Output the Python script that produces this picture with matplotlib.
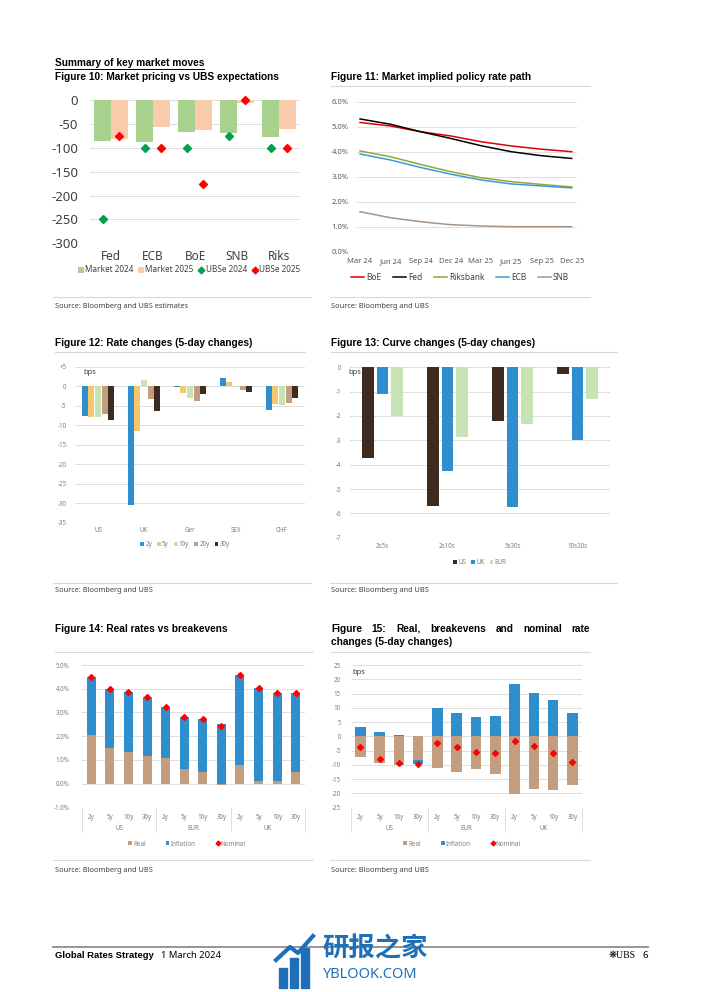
import matplotlib
matplotlib.use('Agg')
import matplotlib.pyplot as plt
import numpy as np
from matplotlib.lines import Line2D
from matplotlib.patches import Patch, Rectangle
import matplotlib.transforms as mtransforms

plt.rcParams['font.family'] = ['Noto Sans', 'DejaVu Sans']
plt.rcParams['axes.unicode_minus'] = False

# ---------------- DATA ----------------
# Figure 10
banks10 = ['Fed', 'ECB', 'BoE', 'SNB', 'Riks']
market2024 = [-85, -88, -68, -70, -78]
market2025 = [-82, -57, -62, -6, -60]
ubse2024 = [-250, -100, -100, -75, -100]
ubse2025 = [-75, -100, -175, 0, -100]

# Figure 11 (quarterly)
months11 = ['Mar 24', 'Jun 24', 'Sep 24', 'Dec 24', 'Mar 25', 'Jun 25', 'Sep 25', 'Dec 25']
boe11 = [5.17, 5.03, 4.80, 4.63, 4.40, 4.23, 4.10, 4.00]
fed11 = [5.31, 5.10, 4.80, 4.53, 4.24, 4.00, 3.84, 3.73]
riks11 = [4.03, 3.80, 3.49, 3.20, 2.96, 2.80, 2.69, 2.59]
ecb11 = [3.91, 3.67, 3.37, 3.10, 2.87, 2.71, 2.63, 2.55]
snb11 = [1.60, 1.36, 1.20, 1.08, 1.03, 1.00, 1.00, 1.00]

# Figure 12
markets12 = ['US', 'UK', 'Ger', 'SEX', 'CHF']
tenors12 = ['2y', '5y', '10y', '20y', '30y']
chg2y = [-7.7, -30.5, -0.3, 2.0, -6.0]
chg5y = [-7.9, -11.5, -1.7, 1.2, -4.6]
chg10y = [-7.9, 1.7, -3.0, -0.1, -4.9]
chg20y = [-7.2, -3.4, -3.8, -0.9, -4.4]
chg30y = [-8.6, -6.4, -1.9, -1.6, -2.9]

# Figure 13
curves13 = ['2s5s', '2s10s', '5s30s', '10s30s']
us13 = [-3.71, -5.68, -2.19, -0.29]
uk13 = [-1.10, -4.25, -5.73, -2.99]
eur13 = [-2.00, -2.85, -2.34, -1.30]

# Figures 14 / 15
groups = ['US', 'EUR', 'UK']
tenors = ['2y', '5y', '10y', '30y']
real14 = [2.06, 1.50, 1.33, 1.16, 1.09, 0.63, 0.47, -0.07, 0.79, 0.11, 0.11, 0.50]
infl14 = [2.45, 2.48, 2.52, 2.47, 2.13, 2.17, 2.26, 2.50, 3.79, 3.91, 3.73, 3.31]
nom14 = [4.51, 3.98, 3.85, 3.63, 3.22, 2.80, 2.73, 2.43, 4.58, 4.02, 3.84, 3.81]

real15 = [-7.1, -9.5, -10.0, -8.3, -11.2, -12.4, -11.6, -13.2, -20.2, -18.5, -18.8, -17.2]
infl15 = [3.4, 1.4, 0.5, -1.4, 9.8, 8.3, 6.9, 7.1, 18.3, 15.3, 12.7, 8.3]
nom15 = [-3.7, -7.9, -9.3, -9.6, -2.2, -3.9, -5.4, -6.0, -1.8, -3.3, -6.0, -8.9]

# ---------------- STYLE ----------------
GRID = '#d9d9d9'
TXT = '#7f7f7f'
BLUE = '#2f8fce'
YEL = '#f2c86a'
LGRN = '#c7e3b6'
TAN = '#c49c7e'
DBRN = '#3d2b1f'
WMK = '#1f6fb8'
BOLD = ['Liberation Sans', 'DejaVu Sans']

W, H = 702, 992
fig = plt.figure(figsize=(W / 100, H / 100), dpi=100)


def add_ax(x0, y0, x1, y1):
    return fig.add_axes([x0 / W, 1 - y1 / H, (x1 - x0) / W, (y1 - y0) / H])


def ftext(x, y, s, **kw):
    kw.setdefault('va', 'center')
    return fig.text(x / W, 1 - y / H, s, **kw)


def hline(x0, x1, y, color=GRID, lw=0.8):
    fig.add_artist(Line2D([x0 / W, x1 / W], [1 - y / H, 1 - y / H], color=color, lw=lw))


def fx(x):
    return x / W


def fy(y):
    return 1 - y / H


def base_style(ax):
    for s in ax.spines.values():
        s.set_visible(False)
    ax.tick_params(length=0)
    ax.yaxis.grid(True, color=GRID, lw=0.6)
    ax.set_axisbelow(True)


renderer = fig.canvas.get_renderer()

# fit title font size so that Figure 10 title spans ~224 px like the reference
probe = ftext(55, 77, 'Figure 10: Market pricing vs UBS expectations', fontweight='bold',
              fontsize=7, family=BOLD)
wprobe = probe.get_window_extent(renderer).width
TITLE_FS = 7 * 224.0 / wprobe
probe.remove()


def title(x, y, s):
    return ftext(x, y, s, fontweight='bold', fontsize=TITLE_FS, family=BOLD)


# ---------------- Figure 10 ----------------
t = title(55, 62.5, 'Summary of key market moves')
title(55, 76.5, 'Figure 10: Market pricing vs UBS expectations')
bb = t.get_window_extent(renderer)
hline(bb.x0, bb.x1, 68.8, color='black', lw=0.7)

ax10 = add_ax(90, 100, 300, 243.3)
base_style(ax10)
x10 = np.arange(len(banks10))
b1 = ax10.bar(x10 - 0.2, market2024, width=0.4, color='#a9d18e', label='Market 2024')
b2 = ax10.bar(x10 + 0.2, market2025, width=0.4, color='#f8cbad', label='Market 2025')
m1, = ax10.plot(x10 - 0.2, ubse2024, 'D', color='#00a04f', ms=3.8, ls='none', clip_on=False, label='UBSe 2024')
m2, = ax10.plot(x10 + 0.2, ubse2025, 'D', color='#ff0000', ms=3.8, ls='none', clip_on=False, label='UBSe 2025')
ax10.set_xlim(-0.5, 4.5)
ax10.set_ylim(-300, 0)
ax10.set_yticks(np.arange(-300, 1, 50))
ax10.set_yticklabels([str(v) for v in np.arange(-300, 1, 50)])
ax10.set_xticks(x10)
ax10.set_xticklabels(banks10)
ax10.tick_params(axis='y', labelsize=9.5, colors='#404040', pad=8.5)
ax10.tick_params(axis='x', labelsize=8.5, colors='#404040', pad=5)
ax10.legend(handles=[b1, b2, m1, m2], loc='center', bbox_to_anchor=(fx(189), fy(270)),
            bbox_transform=fig.transFigure,
            ncol=4, frameon=False, fontsize=5.9, handlelength=0.7, handleheight=0.7,
            handletextpad=0.15, columnspacing=0.6, labelcolor='#404040', markerscale=0.9)

# ---------------- Figure 11 ----------------
title(331, 76.5, 'Figure 11: Market implied policy rate path')
hline(331, 590, 86)
ax11 = add_ax(357, 101.7, 577, 251.7)
base_style(ax11)
x11 = np.arange(len(months11))
ax11.plot(x11, boe11, color='#e00000', lw=1.1, label='BoE')
ax11.plot(x11, fed11, color='black', lw=1.1, label='Fed')
ax11.plot(x11, riks11, color='#93a733', lw=1.1, label='Riksbank')
ax11.plot(x11, ecb11, color='#3d9ad6', lw=1.1, label='ECB')
ax11.plot(x11, snb11, color='#a89484', lw=1.1, label='SNB')
ax11.set_xlim(-0.1, 7.175)
ax11.set_ylim(0, 6)
ax11.set_yticks(np.arange(0, 7, 1))
ax11.set_yticklabels(['%.1f%%' % v for v in np.arange(0, 7, 1)])
ax11.set_xticks(x11)
ax11.set_xticklabels(months11)
ax11.tick_params(axis='both', labelsize=5.5, colors='#595959')
ax11.tick_params(axis='y', pad=6)
ax11.tick_params(axis='x', pad=8)
for lab in ax11.get_xticklabels():
    lab.set_va('baseline')
ax11.legend(loc='center', bbox_to_anchor=(fx(460), fy(277)), bbox_transform=fig.transFigure,
            ncol=5, frameon=False, fontsize=6, handlelength=1.6, handletextpad=0.2,
            columnspacing=1.4, labelcolor='#404040')

# source lines row 1
hline(53, 311, 297)
hline(330, 590, 297)
ftext(55, 306, 'Source: Bloomberg and UBS estimates', fontsize=5.3, color='#404040')
ftext(331, 306, 'Source: Bloomberg and UBS', fontsize=5.3, color='#404040')

# ---------------- Figure 12 ----------------
title(55, 342.5, 'Figure 12: Rate changes (5-day changes)')
hline(55, 305, 352)
ax12 = add_ax(75, 366.7, 305, 522.7)
base_style(ax12)
x12 = np.arange(len(markets12))
series12 = [chg2y, chg5y, chg10y, chg20y, chg30y]
cols12 = [BLUE, YEL, LGRN, TAN, DBRN]
slot = 0.145
for i, (vals, c, lab) in enumerate(zip(series12, cols12, tenors12)):
    ax12.bar(x12 + (i - 2) * slot, vals, width=0.125, color=c, label=lab)
ax12.set_xlim(-0.5, 4.5)
ax12.set_ylim(-35, 5)
ax12.set_yticks(np.arange(-35, 6, 5))
ax12.set_yticklabels([('+%d' % v) if v > 0 else str(v) for v in np.arange(-35, 6, 5)])
ax12.set_xticks(x12)
ax12.set_xticklabels(markets12)
ax12.tick_params(axis='both', labelsize=4.5, colors=TXT)
ax12.tick_params(axis='y', pad=6)
ax12.tick_params(axis='x', pad=3)
ax12.text(fx(83), fy(373), 'bps', transform=fig.transFigure, fontsize=5.5, color='#404040', va='center')
ax12.legend(loc='center', bbox_to_anchor=(fx(185), fy(545)), bbox_transform=fig.transFigure,
            ncol=5, frameon=False, fontsize=4.5, handlelength=0.6, handleheight=0.6,
            handletextpad=0.2, columnspacing=0.8, labelcolor=TXT)

# ---------------- Figure 13 ----------------
title(331, 342.5, 'Figure 13: Curve changes (5-day changes)')
hline(331, 617, 352)
ax13 = add_ax(350, 367.3, 610, 537.7)
base_style(ax13)
x13 = np.arange(len(curves13))
slot13 = 0.22
ax13.text(fx(348), fy(373), 'bps', transform=fig.transFigure, fontsize=5.5, color='#404040',
          va='center', zorder=0.5)
ax13.bar(x13 - slot13, us13, width=0.18, color=DBRN, label='US', zorder=2)
ax13.bar(x13, uk13, width=0.18, color=BLUE, label='UK', zorder=2)
ax13.bar(x13 + slot13, eur13, width=0.18, color=LGRN, label='EUR', zorder=2)
ax13.set_xlim(-0.5, 3.5)
ax13.set_ylim(-7, 0)
ax13.set_yticks(np.arange(-7, 1, 1))
ax13.set_yticklabels([str(v) for v in np.arange(-7, 1, 1)])
ax13.set_xticks(x13)
ax13.set_xticklabels(curves13)
ax13.tick_params(axis='both', labelsize=4.5, colors=TXT)
ax13.tick_params(axis='y', pad=6)
ax13.tick_params(axis='x', pad=4)
ax13.legend(loc='center', bbox_to_anchor=(fx(480), fy(563)), bbox_transform=fig.transFigure,
            ncol=3, frameon=False, fontsize=4.5, handlelength=0.6, handleheight=0.6,
            handletextpad=0.2, columnspacing=0.8, labelcolor=TXT)

# source lines row 2
hline(53, 311, 583)
hline(330, 617, 583)
ftext(55, 591, 'Source: Bloomberg and UBS', fontsize=5.3, color='#404040')
ftext(331, 591, 'Source: Bloomberg and UBS', fontsize=5.3, color='#404040')


# ---------------- helper for stacked bar charts with multi-level axis ----------------
def stacked(ax, real, infl, nom, ytop_px, ybot_px, width, ms):
    base_style(ax)
    real = np.array(real)
    infl = np.array(infl)
    n = len(real)
    xs = np.arange(n)
    rb = np.zeros(n)
    ib = np.where(infl >= 0, np.maximum(real, 0), np.minimum(real, 0))
    h1 = ax.bar(xs, real, bottom=rb, width=width, color=TAN, label='Real')
    h2 = ax.bar(xs, infl, bottom=ib, width=width, color=BLUE, label='Inflation')
    h3, = ax.plot(xs, nom, 'D', color='#ff0000', ms=ms, ls='none', label='Nominal')
    ax.set_xlim(-0.5, n - 0.5)
    ax.set_xticks(xs)
    ax.set_xticklabels(tenors * len(groups))
    ax.tick_params(axis='both', labelsize=4.5, colors=TXT)
    ax.tick_params(axis='x', pad=4.5)
    trans = mtransforms.blended_transform_factory(ax.transData, ax.transAxes)

    def ya(ypx):
        return (ybot_px - ypx) / (ybot_px - ytop_px)

    ng = len(tenors)
    for g, name in enumerate(groups):
        ax.text(g * ng + (ng - 1) / 2, ya(829), name, transform=trans, ha='center', va='center',
                fontsize=4.5, color=TXT)
    for b in range(len(groups) + 1):
        ax.plot([b * ng - 0.5, b * ng - 0.5], [ya(808), ya(832)], transform=trans, color=GRID,
                lw=0.6, clip_on=False)
    return [h1, h2, h3]


# ---------------- Figure 14 ----------------
title(55, 628.5, 'Figure 14: Real rates vs breakevens')
hline(55, 313, 652)
ax14 = add_ax(82, 665, 305, 807.3)
hs14 = stacked(ax14, real14, infl14, nom14, 665, 807.3, 0.48, 3.0)
ax14.set_ylim(-1, 5)
ax14.set_yticks(np.arange(-1, 6, 1))
ax14.set_yticklabels(['%.1f%%' % v for v in np.arange(-1, 6, 1)])
ax14.tick_params(axis='y', pad=9)
ax14.legend(handles=hs14, loc='center', bbox_to_anchor=(fx(187), fy(844)), bbox_transform=fig.transFigure,
            ncol=3, frameon=False, fontsize=4.5, handlelength=0.6, handleheight=0.6,
            handletextpad=0.2, columnspacing=3.2, labelcolor=TXT, markerscale=0.8)

# ---------------- Figure 15 ----------------
words15 = ['Figure', '15:', 'Real,', 'breakevens', 'and', 'nominal', 'rate']
wt = [title(331, 628.5, w) for w in words15]
widths = [w.get_window_extent(renderer).width for w in wt]
gap = (590 - 331 - sum(widths)) / (len(words15) - 1)
xp = 331.0
for w, wd in zip(wt, widths):
    w.set_x(fx(xp))
    xp += wd + gap
title(331, 642, 'changes (5-day changes)')
hline(331, 590, 652)
ax15 = add_ax(350.7, 665, 582, 807.7)
hs15 = stacked(ax15, real15, infl15, nom15, 665, 807.7, 0.55, 3.0)
ax15.set_ylim(-25, 25)
ax15.set_yticks(np.arange(-25, 26, 5))
ax15.set_yticklabels([str(v) for v in np.arange(-25, 26, 5)])
ax15.tick_params(axis='y', pad=7)
ax15.text(fx(352), fy(673), 'bps', transform=fig.transFigure, fontsize=5.5, color='#404040', va='center')
ax15.legend(handles=hs15, loc='center', bbox_to_anchor=(fx(462), fy(844)), bbox_transform=fig.transFigure,
            ncol=3, frameon=False, fontsize=4.5, handlelength=0.6, handleheight=0.6,
            handletextpad=0.2, columnspacing=3.2, labelcolor=TXT, markerscale=0.8)

# source lines row 3
hline(53, 313, 860)
hline(330, 590, 860)
ftext(55, 870, 'Source: Bloomberg and UBS', fontsize=5.3, color='#404040')
ftext(331, 870, 'Source: Bloomberg and UBS', fontsize=5.3, color='#404040')

# ---------------- Footer ----------------
hline(53, 648, 947, color='#8c8c8c', lw=1.3)
ftext(55, 956, 'Global Rates Strategy', fontweight='bold', fontsize=6.8, family=BOLD)
ftext(161, 956, '1 March 2024', fontsize=6.8)
ftext(636, 956, '❋UBS', ha='right', fontsize=7, family=['Liberation Serif', 'DejaVu Sans'])
ftext(648, 956, '6', ha='right', fontsize=7)

# watermark (text + simple icon)
ftext(322, 949, '研报之家', fontsize=19, color=WMK, family=['Noto Sans CJK SC', 'DejaVu Sans'],
      fontweight='bold')
ftext(323, 975, 'YBLOOK.COM', fontsize=10.5, color=WMK)
for (ix, itop) in [(279, 968), (290, 958), (301, 948)]:
    fig.add_artist(Rectangle((fx(ix), fy(988)), 8 / W, (988 - itop) / H, color=WMK,
                             transform=fig.transFigure))
fig.add_artist(Line2D([fx(276), fx(290), fx(298), fx(313)], [fy(960), fy(947), fy(953), fy(936)],
                      color=WMK, lw=3, transform=fig.transFigure))

fig.savefig('out.png', dpi=100)
